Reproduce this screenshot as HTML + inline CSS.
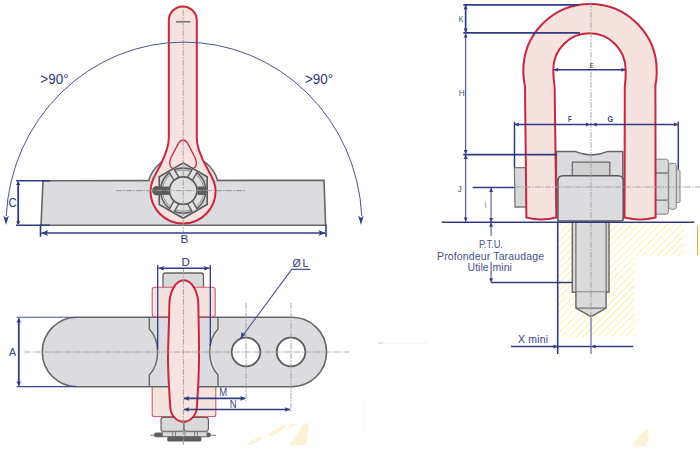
<!DOCTYPE html>
<html><head><meta charset="utf-8">
<style>
html,body{margin:0;padding:0;background:#fff;width:700px;height:450px;overflow:hidden}
svg{display:block}
text{font-family:"Liberation Sans",sans-serif}
</style></head><body>
<svg width="700" height="450" viewBox="0 0 700 450">
<defs>
<pattern id="hatch" patternUnits="userSpaceOnUse" width="5" height="5" patternTransform="rotate(45)">
<line x1="0" y1="0" x2="0" y2="5" stroke="#f5e54c" stroke-width="1.05"/>
</pattern>
</defs>
<path d="M 289 445.3 L 304 423.6 L 309.1 423.4 L 306.3 445.3 Z" fill="#fdf1d6"/>
<path d="M 245.7 445.3 L 252 440.5 L 259 437 L 263.5 437.5 L 257 442 L 250 445.3 Z" fill="#fdf1d6"/>
<path d="M 267.5 436.5 L 272 431 L 278 428 L 283 425 L 286 424.5 L 284.5 428 L 279 432 L 272 436 Z" fill="#fdf1d6"/>
<path d="M 287.5 427 L 291 424 L 298 423 L 295 425.5 L 290 427.5 Z" fill="#fdf1d6"/>
<path d="M 631 446 L 641 434 L 648 428 L 649 438 L 646 446 Z" fill="#fdf1d6"/>
<polygon points="43,180.8 324,180.3 325.6,225.3 41,225.3" fill="#dcdce0" stroke="#666666" stroke-width="1.6"/>
<path d="M 148.6 181 A 36 36 0 0 1 217.8 181" fill="#e6e6e6" stroke="#666666" stroke-width="1.6"/>
<rect x="145" y="181.9" width="76" height="6" fill="#dcdce0"/>
<line x1="116.00" y1="190.60" x2="245.00" y2="190.60" stroke="#9c9c9c" stroke-width="0.9" stroke-dasharray="5.8,1.3,1.6,1.3" stroke-dashoffset="0"/>
<path d="M 168.8 20.4 A 14 14 0 0 1 196.8 20.4 L 196.8 138 C 196.8 147 200.5 156 206 166 C 212 177 215.6 183 215.6 191 A 32.55 32.55 0 0 1 150.5 191 C 150.5 183 154 177 160 166 C 165 156 168.8 147 168.8 138 Z" fill="#f6e3df" stroke="#c8283f" stroke-width="2"/>
<path d="M 178.6 143.2 Q 183 136.8 187.6 143.2 L 195 157.5 Q 196.6 160.8 196.3 164 Q 195.8 168.6 191 168.8 L 175 168.8 Q 170.2 168.6 169.8 164 Q 169.5 160.8 171 157.5 Z" fill="none" stroke="#c8283f" stroke-width="1.3"/>
<line x1="176.00" y1="21.80" x2="190.40" y2="21.80" stroke="#666" stroke-width="1.4" />
<polygon points="183.20,162.90 207.19,176.75 207.19,204.45 183.20,218.30 159.21,204.45 159.21,176.75" fill="#d6d6d6" stroke="#5a5a5a" stroke-width="1.6"/>
<circle cx="183.2" cy="190.6" r="22.6" fill="#dedede" stroke="#5a5a5a" stroke-width="1.5"/>
<circle cx="183.2" cy="190.6" r="20.6" fill="none" stroke="#777" stroke-width="0.8"/>
<g transform="translate(183.2 190.6) rotate(60)"><rect x="13.5" y="-2.8" width="9.5" height="5.6" fill="#e4e4e4"/><line x1="13" y1="-2.8" x2="23" y2="-2.8" stroke="#5a5a5a" stroke-width="1.4"/><line x1="13" y1="2.8" x2="23" y2="2.8" stroke="#5a5a5a" stroke-width="1.4"/></g>
<g transform="translate(183.2 190.6) rotate(120)"><rect x="13.5" y="-2.8" width="9.5" height="5.6" fill="#e4e4e4"/><line x1="13" y1="-2.8" x2="23" y2="-2.8" stroke="#5a5a5a" stroke-width="1.4"/><line x1="13" y1="2.8" x2="23" y2="2.8" stroke="#5a5a5a" stroke-width="1.4"/></g>
<g transform="translate(183.2 190.6) rotate(240)"><rect x="13.5" y="-2.8" width="9.5" height="5.6" fill="#e4e4e4"/><line x1="13" y1="-2.8" x2="23" y2="-2.8" stroke="#5a5a5a" stroke-width="1.4"/><line x1="13" y1="2.8" x2="23" y2="2.8" stroke="#5a5a5a" stroke-width="1.4"/></g>
<g transform="translate(183.2 190.6) rotate(300)"><rect x="13.5" y="-2.8" width="9.5" height="5.6" fill="#e4e4e4"/><line x1="13" y1="-2.8" x2="23" y2="-2.8" stroke="#5a5a5a" stroke-width="1.4"/><line x1="13" y1="2.8" x2="23" y2="2.8" stroke="#5a5a5a" stroke-width="1.4"/></g>
<circle cx="183.2" cy="190.6" r="13.75" fill="#e0e0e0" stroke="#5a5a5a" stroke-width="1.6"/>
<rect x="155" y="186.5" width="14" height="8.4" fill="#5c5c5c"/>
<ellipse cx="156.4" cy="190.8" rx="4.3" ry="4.6" fill="#5c5c5c"/>
<rect x="197.4" y="186.5" width="9" height="8.4" fill="#5c5c5c"/>
<line x1="183.20" y1="10.00" x2="183.20" y2="232.00" stroke="#9c9c9c" stroke-width="0.9" stroke-dasharray="5.8,1.3,1.6,1.3" stroke-dashoffset="0"/>
<line x1="116.00" y1="190.60" x2="245.00" y2="190.60" stroke="#9c9c9c" stroke-width="0.9" stroke-dasharray="5.8,1.3,1.6,1.3" stroke-dashoffset="0"/>
<path d="M 6.22 216 A 178 183 0 0 1 361.78 216" fill="none" stroke="#4b5590" stroke-width="1"/>
<polygon points="6,225 3.3,215.5 6.2,218 8.9,215.5" fill="#303b82"/>
<polygon points="361,225 358.2,215.5 361.1,218 363.7,215.5" fill="#303b82"/>
<text transform="translate(40.30 83.80) scale(0.880 1)" font-size="15.3" fill="#2f3a7a" font-weight="normal" text-anchor="start" >&gt;90°</text>
<text transform="translate(305.00 83.80) scale(0.880 1)" font-size="15.3" fill="#2f3a7a" font-weight="normal" text-anchor="start" >&gt;90°</text>
<line x1="16.00" y1="180.80" x2="50.00" y2="180.80" stroke="#303b82" stroke-width="1.5" />
<line x1="16.00" y1="225.30" x2="50.00" y2="225.30" stroke="#303b82" stroke-width="1.5" />
<line x1="18.20" y1="182.00" x2="18.20" y2="224.00" stroke="#303b82" stroke-width="1.8" />
<polygon points="18.20,181.30 16.10,184.90 18.20,184.90 20.30,184.90" fill="#303b82"/>
<polygon points="18.20,224.80 16.10,221.20 18.20,221.20 20.30,221.20" fill="#303b82"/>
<text transform="translate(8.60 206.70) scale(0.950 1)" font-size="12" fill="#2f3a7a" font-weight="normal" text-anchor="start" >C</text>
<line x1="40.50" y1="224.50" x2="40.50" y2="236.70" stroke="#303b82" stroke-width="1.6" />
<line x1="326.00" y1="224.50" x2="326.00" y2="236.70" stroke="#303b82" stroke-width="1.6" />
<line x1="41.50" y1="233.00" x2="325.00" y2="233.00" stroke="#303b82" stroke-width="1.7" />
<polygon points="41.40,233.00 48.20,230.00 46.50,233.00 48.20,236.00" fill="#303b82"/>
<polygon points="325.20,233.00 318.40,230.00 320.10,233.00 318.40,236.00" fill="#303b82"/>
<text transform="translate(180.60 242.80) scale(1.120 1)" font-size="10.5" fill="#2f3a7a" font-weight="normal" text-anchor="start" >B</text>
<rect x="152.2" y="383" width="63.6" height="33.5" rx="2" fill="#f6e3df" stroke="#d3586b" stroke-width="1.1"/>
<path d="M 378 343.1 L 427 343.1" stroke="#f4f4f4" stroke-width="1.2"/>
<path d="M 378 343.1 L 383 343.1" stroke="#f2c6cc" stroke-width="1.2"/>
<path d="M 77 317.2 L 291.8 317.2 A 34.75 34.75 0 0 1 291.8 386.7 L 77 386.7 A 34.75 34.75 0 0 1 77 317.2 Z" fill="#dcdce0" stroke="#666666" stroke-width="1.6"/>
<path d="M 149.3 317.2 L 149.3 329 C 156 336 157.6 345 157.6 352 C 157.6 359 156 368 149.3 375 L 149.3 386.7" fill="none" stroke="#666666" stroke-width="1.4"/>
<path d="M 218 317.2 L 218 329 C 211.3 336 209.7 345 209.7 352 C 209.7 359 211.3 368 218 375 L 218 386.7" fill="none" stroke="#666666" stroke-width="1.4"/>
<circle cx="246" cy="352" r="14.3" fill="#fff" stroke="#5a5a5a" stroke-width="1.8"/>
<circle cx="291" cy="352" r="14.3" fill="#fff" stroke="#5a5a5a" stroke-width="1.8"/>
<rect x="163" y="273" width="40.5" height="17" rx="2.5" fill="#d9d9d9" stroke="#666666" stroke-width="1.3"/>
<rect x="152.2" y="287.2" width="63" height="29.5" rx="2.5" fill="#f6e3df" stroke="#d3586b" stroke-width="1.1"/>
<rect x="161" y="417.3" width="22.9" height="14" rx="2.5" fill="#d9d9d9" stroke="#666666" stroke-width="1.2"/>
<rect x="184" y="417.3" width="24.4" height="14" rx="2.5" fill="#d9d9d9" stroke="#666666" stroke-width="1.2"/>
<line x1="150.10" y1="435.20" x2="216.20" y2="435.20" stroke="#777" stroke-width="1" />
<rect x="154" y="432.6" width="56.8" height="4.6" rx="2.3" fill="#5e5e5e"/>
<rect x="162.5" y="431.8" width="44.4" height="4.6" fill="#d9d9d9" stroke="#777" stroke-width="0.8"/>
<line x1="172.70" y1="432.00" x2="172.70" y2="436.40" stroke="#777" stroke-width="0.9" />
<line x1="175.50" y1="432.00" x2="175.50" y2="436.40" stroke="#777" stroke-width="0.9" />
<line x1="185.00" y1="432.00" x2="185.00" y2="436.40" stroke="#777" stroke-width="0.9" />
<line x1="194.70" y1="432.00" x2="194.70" y2="436.40" stroke="#777" stroke-width="0.9" />
<line x1="197.50" y1="432.00" x2="197.50" y2="436.40" stroke="#777" stroke-width="0.9" />
<rect x="167.2" y="436.6" width="34.2" height="4.8" rx="1.5" fill="#5e5e5e"/>
<path d="M 169.3 306 C 169.3 291 176 280.3 183.8 280.3 C 191.6 280.3 198.4 291 198.4 306 C 198.7 330 199.2 345 199 360 C 198.8 380 197.5 398 196.8 408 C 196 416 190 421.7 183.6 421.7 C 177 421.7 171 416 170.3 408 C 169.8 398 168.2 380 168 360 C 167.9 345 169 330 169.3 306 Z" fill="#f6e3df" stroke="#c8283f" stroke-width="2"/>
<line x1="24.50" y1="352.00" x2="349.00" y2="352.00" stroke="#9c9c9c" stroke-width="0.9" stroke-dasharray="5.8,1.3,1.6,1.3" stroke-dashoffset="0"/>
<line x1="183.40" y1="269.00" x2="183.40" y2="445.00" stroke="#9c9c9c" stroke-width="0.9" stroke-dasharray="5.8,1.3,1.6,1.3" stroke-dashoffset="0"/>
<line x1="246.00" y1="303.00" x2="246.00" y2="401.50" stroke="#9c9c9c" stroke-width="0.9" stroke-dasharray="5.8,1.3,1.6,1.3" stroke-dashoffset="0"/>
<line x1="291.00" y1="303.00" x2="291.00" y2="413.00" stroke="#9c9c9c" stroke-width="0.9" stroke-dasharray="5.8,1.3,1.6,1.3" stroke-dashoffset="0"/>
<line x1="16.70" y1="317.20" x2="76.00" y2="317.20" stroke="#4a5296" stroke-width="1.1" />
<line x1="16.70" y1="386.70" x2="76.00" y2="386.70" stroke="#3a4490" stroke-width="1.3" />
<line x1="18.80" y1="318.50" x2="18.80" y2="385.50" stroke="#303b82" stroke-width="1.8" />
<polygon points="18.80,318.00 16.60,322.60 18.80,322.60 21.00,322.60" fill="#303b82"/>
<polygon points="18.80,386.00 16.60,381.40 18.80,381.40 21.00,381.40" fill="#303b82"/>
<text transform="translate(9.00 356.00) scale(0.920 1)" font-size="11.5" fill="#2f3a7a" font-weight="normal" text-anchor="start" >A</text>
<line x1="157.70" y1="265.00" x2="157.70" y2="349.70" stroke="#303b82" stroke-width="1.3" />
<line x1="210.30" y1="265.00" x2="210.30" y2="346.00" stroke="#303b82" stroke-width="1.3" />
<line x1="158.50" y1="268.30" x2="209.50" y2="268.30" stroke="#303b82" stroke-width="1.5" />
<polygon points="158.20,268.30 164.20,265.90 163.00,268.30 164.20,270.70" fill="#303b82"/>
<polygon points="209.80,268.30 203.80,265.90 205.00,268.30 203.80,270.70" fill="#303b82"/>
<text transform="translate(181.60 265.80) scale(1.150 1)" font-size="10" fill="#2f3a7a" font-weight="normal" text-anchor="start" >D</text>
<line x1="184.00" y1="398.40" x2="245.00" y2="398.40" stroke="#303b82" stroke-width="1.6" />
<line x1="184.00" y1="409.50" x2="290.00" y2="409.50" stroke="#303b82" stroke-width="1.6" />
<polygon points="183.50,398.40 189.30,396.10 188.43,398.40 189.30,400.70" fill="#303b82"/>
<polygon points="246.00,398.40 240.20,396.10 241.07,398.40 240.20,400.70" fill="#303b82"/>
<polygon points="183.50,409.50 189.30,407.20 188.43,409.50 189.30,411.80" fill="#303b82"/>
<polygon points="290.60,409.50 284.80,407.20 285.67,409.50 284.80,411.80" fill="#303b82"/>
<text transform="translate(219.30 396.30) scale(0.950 1)" font-size="10" fill="#3a4496" font-weight="normal" text-anchor="start" >M</text>
<text transform="translate(229.80 408.00) scale(0.950 1)" font-size="10" fill="#3a4496" font-weight="normal" text-anchor="start" >N</text>
<polyline points="240.7,338.3 291.7,269.4 310.5,269.4" fill="none" stroke="#4a5296" stroke-width="1.1"/>
<polygon points="240.7,338.3 241.6,332.2 245.3,334.9" fill="#303b82"/>
<text transform="translate(292.60 266.70) scale(1.000 1)" font-size="10.5" fill="#2f3a7a" font-weight="normal" text-anchor="start" >Ø</text>
<text transform="translate(302.60 266.70) scale(1.000 1)" font-size="10.5" fill="#2f3a7a" font-weight="normal" text-anchor="start" >L</text>
<line x1="364.00" y1="397.00" x2="364.00" y2="428.00" stroke="#f6f6f6" stroke-width="1" />
<path d="M 558 223 L 683.6 223 L 683.6 255.7 L 635 255.7 L 635 337 L 558 337 Z" fill="url(#hatch)"/>
<line x1="697.60" y1="225.70" x2="697.60" y2="255.00" stroke="#f0a830" stroke-width="1.1" />
<rect x="572.3" y="222" width="36.7" height="70.2" fill="#dadada" stroke="#666666" stroke-width="1.4"/>
<line x1="575.90" y1="222.00" x2="575.90" y2="292.00" stroke="#666666" stroke-width="1.1" />
<line x1="606.10" y1="222.00" x2="606.10" y2="292.00" stroke="#666666" stroke-width="1.1" />
<path d="M 575.9 292.2 L 575.9 308.1 L 591 316.7 L 606.1 308.1 L 606.1 292.2" fill="#dadada" stroke="#666666" stroke-width="1.4"/>
<line x1="575.90" y1="308.10" x2="606.10" y2="308.10" stroke="#666666" stroke-width="1.1" />
<path d="M 556.4 151.4 L 575 151.4 Q 591.5 158.5 608 151.4 L 622.8 151.4 L 622.8 180 L 556.4 180 Z" fill="#dcdce0" stroke="#666666" stroke-width="1.5"/>
<rect x="572.3" y="162.1" width="37.5" height="14.5" fill="#d0d0d0" stroke="#666666" stroke-width="1.2"/>
<path d="M 557.9 221 L 557.9 181 Q 557.9 175.8 563 175.8 L 618 175.8 Q 623.2 175.8 623.2 181 L 623.2 219 Q 623.2 221 621 221 Z" fill="#dcdce0" stroke="#5c5c5c" stroke-width="1.6"/>
<path d="M 528 167.6 L 514.4 167.6 L 515 207 L 528 207" fill="#d9d9d9" stroke="#7a7a7a" stroke-width="1.3"/>
<rect x="676" y="170" width="4" height="32.5" rx="1.2" fill="#d9d9d9" stroke="#808080" stroke-width="1"/>
<rect x="668.7" y="163.3" width="7.6" height="45.9" rx="2.2" fill="#d9d9d9" stroke="#808080" stroke-width="1"/>
<rect x="650" y="159.2" width="18.3" height="13.6" rx="2.4" fill="#d9d9d9" stroke="#808080" stroke-width="1"/>
<rect x="650" y="173.3" width="18.3" height="26.7" rx="1.2" fill="#d9d9d9" stroke="#808080" stroke-width="1"/>
<rect x="650" y="200.4" width="18.3" height="13.8" rx="2.4" fill="#d9d9d9" stroke="#808080" stroke-width="1"/>
<path d="M 526.4 217.5 L 525 86 Q 523.4 80 523.3 70.7 A 66.7 66.7 0 0 1 656.7 70.7 Q 656.7 80 655.4 85 L 655.6 217.5 Q 640 221.5 624.5 217.5 L 624.8 86 Q 625.8 80 625.6 69.5 A 36.15 36.15 0 0 0 553.3 69.5 Q 553.4 80 554.6 86 L 556.4 217.5 Q 541 221.5 526.4 217.5 Z" fill="#f6e3df" stroke="#c8283f" stroke-width="2"/>
<line x1="591.00" y1="2.00" x2="591.00" y2="318.00" stroke="#9c9c9c" stroke-width="0.9" stroke-dasharray="5.8,1.3,1.6,1.3" stroke-dashoffset="0"/>
<line x1="515.00" y1="187.00" x2="700.00" y2="187.00" stroke="#9c9c9c" stroke-width="0.9" stroke-dasharray="5.8,1.3,1.6,1.3" stroke-dashoffset="0"/>
<line x1="463.30" y1="4.90" x2="579.00" y2="4.90" stroke="#303b82" stroke-width="1.6" />
<line x1="463.30" y1="32.90" x2="580.00" y2="32.90" stroke="#303b82" stroke-width="1.6" />
<line x1="465.60" y1="5.50" x2="465.60" y2="221.80" stroke="#5a62a0" stroke-width="1.3" />
<line x1="465.60" y1="5.50" x2="465.60" y2="32.50" stroke="#303b82" stroke-width="1.5" />
<polygon points="465.60,5.30 463.60,9.30 465.60,9.30 467.60,9.30" fill="#303b82"/>
<polygon points="465.60,32.40 463.60,28.40 465.60,28.40 467.60,28.40" fill="#303b82"/>
<polygon points="465.60,33.40 463.60,37.40 465.60,37.40 467.60,37.40" fill="#303b82"/>
<polygon points="465.60,154.10 463.60,150.10 465.60,150.10 467.60,150.10" fill="#303b82"/>
<polygon points="465.60,155.10 463.60,159.10 465.60,159.10 467.60,159.10" fill="#303b82"/>
<polygon points="465.60,221.60 463.60,217.60 465.60,217.60 467.60,217.60" fill="#303b82"/>
<line x1="463.30" y1="154.60" x2="557.00" y2="154.60" stroke="#303b82" stroke-width="1.6" />
<line x1="472.60" y1="187.50" x2="514.50" y2="187.50" stroke="#303b82" stroke-width="1.6" />
<line x1="491.10" y1="188.00" x2="491.10" y2="222.00" stroke="#6a70a8" stroke-width="1.3" />
<polygon points="491.10,188.00 489.10,192.00 491.10,192.00 493.10,192.00" fill="#303b82"/>
<polygon points="491.10,222.00 489.10,218.00 491.10,218.00 493.10,218.00" fill="#303b82"/>
<line x1="441.70" y1="222.30" x2="694.30" y2="222.30" stroke="#303b82" stroke-width="1.5" />
<line x1="491.10" y1="223.00" x2="491.10" y2="236.00" stroke="#6a70a8" stroke-width="1.3" />
<line x1="491.10" y1="262.00" x2="491.10" y2="282.40" stroke="#6a70a8" stroke-width="1.3" />
<polygon points="491.10,222.80 489.10,226.80 491.10,226.80 493.10,226.80" fill="#303b82"/>
<polygon points="491.10,282.20 489.10,278.20 491.10,278.20 493.10,278.20" fill="#303b82"/>
<line x1="491.10" y1="282.40" x2="572.30" y2="282.40" stroke="#303b82" stroke-width="1.5" />
<line x1="557.70" y1="222.30" x2="557.70" y2="354.00" stroke="#303b82" stroke-width="1.6" />
<line x1="514.50" y1="121.70" x2="514.50" y2="167.20" stroke="#303b82" stroke-width="1.5" />
<line x1="678.30" y1="121.70" x2="678.30" y2="169.40" stroke="#303b82" stroke-width="1.5" />
<line x1="515.00" y1="124.60" x2="678.00" y2="124.60" stroke="#303b82" stroke-width="1.5" />
<polygon points="514.80,124.60 518.80,122.60 518.80,124.60 518.80,126.60" fill="#303b82"/>
<polygon points="678.00,124.60 674.00,122.60 674.00,124.60 674.00,126.60" fill="#303b82"/>
<polygon points="590.00,124.60 586.00,122.60 586.00,124.60 586.00,126.60" fill="#303b82"/>
<polygon points="592.60,124.60 596.60,122.60 596.60,124.60 596.60,126.60" fill="#303b82"/>
<line x1="554.00" y1="69.70" x2="625.00" y2="69.70" stroke="#303b82" stroke-width="1.5" />
<polygon points="553.80,69.70 557.80,67.70 557.80,69.70 557.80,71.70" fill="#303b82"/>
<polygon points="625.40,69.70 621.40,67.70 621.40,69.70 621.40,71.70" fill="#303b82"/>
<line x1="511.00" y1="346.40" x2="633.30" y2="346.40" stroke="#303b82" stroke-width="1.5" />
<polygon points="557.50,346.40 553.50,344.40 553.50,346.40 553.50,348.40" fill="#303b82"/>
<polygon points="591.50,346.40 595.50,344.40 595.50,346.40 595.50,348.40" fill="#303b82"/>
<line x1="591.00" y1="318.00" x2="591.00" y2="354.00" stroke="#6a70a8" stroke-width="1.3" />
<text transform="translate(458.80 22.10) scale(0.850 1)" font-size="8.3" fill="#3e4888" font-weight="normal" text-anchor="start" >K</text>
<text transform="translate(458.80 96.30) scale(0.950 1)" font-size="8.6" fill="#4a5290" font-weight="normal" text-anchor="start" >H</text>
<text transform="translate(457.80 191.80) scale(0.950 1)" font-size="8.6" fill="#4a5290" font-weight="normal" text-anchor="start" >J</text>
<text transform="translate(484.20 208.00) scale(1.000 1)" font-size="8.6" fill="#8a90b8" font-weight="normal" text-anchor="start" >I</text>
<text transform="translate(568.00 121.70) scale(0.720 1)" font-size="8.6" fill="#3a4482" font-weight="bold" text-anchor="start" >F</text>
<text transform="translate(607.60 121.70) scale(0.850 1)" font-size="8.6" fill="#3a4482" font-weight="bold" text-anchor="start" >G</text>
<text transform="translate(591.70 68.00) scale(0.850 1)" font-size="7" fill="#3a4482" font-weight="normal" text-anchor="middle" >E</text>
<rect x="477" y="238" width="28" height="10.5" fill="#fff"/>
<rect x="436" y="250" width="110" height="11" fill="#fff"/>
<text x="490.9" y="247.8" font-size="10.5" fill="#48508e" text-anchor="middle" textLength="24" lengthAdjust="spacingAndGlyphs">P.T.U.</text>
<text x="490.5" y="260" font-size="10.5" fill="#48508e" text-anchor="middle" textLength="107" lengthAdjust="spacing">Profondeur Taraudage</text>
<text x="467.6" y="270.6" font-size="10.5" fill="#48508e">Utile</text>
<text x="492.6" y="270.6" font-size="10.5" fill="#48508e">mini</text>
<text x="518" y="342.6" font-size="10.5" fill="#3a4280" textLength="30" lengthAdjust="spacing">X mini</text>
</svg>
</body></html>
